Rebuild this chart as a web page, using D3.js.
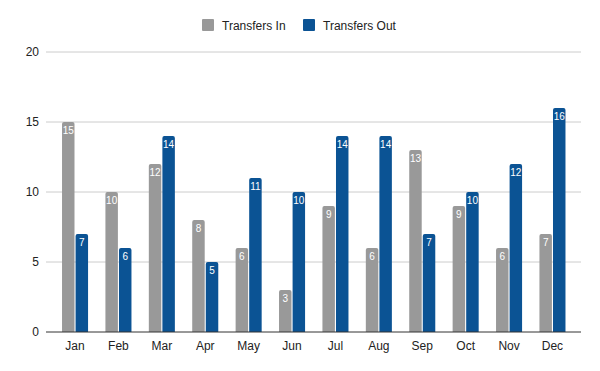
<!DOCTYPE html>
<html>
<head>
<meta charset="utf-8">
<script src="https://cdn.jsdelivr.net/npm/d3@7"></script>
<style>
  body { margin: 0; background: #fff; }
  text { font-family: Arial, "Liberation Sans", sans-serif; }
</style>
</head>
<body>
<svg id="chart" width="600" height="371"></svg>
<script>
const months = ["Jan", "Feb", "Mar", "Apr", "May", "Jun", "Jul", "Aug", "Sep", "Oct", "Nov", "Dec"];
const transfersIn = [15, 10, 12, 8, 6, 3, 9, 6, 13, 9, 6, 7];
const transfersOut = [7, 6, 14, 5, 11, 10, 14, 14, 7, 10, 12, 16];
const yTicks = [0, 5, 10, 15, 20];

const series = [
    { name: "Transfers In", values: transfersIn, color: "#999999" },
    { name: "Transfers Out", values: transfersOut, color: "#0b5394" }
];

const svg = d3.select("#chart");
const gridLeft = 46, gridRight = 581;

const x = d3.scaleBand().domain(months).range([49, 578.5]).paddingInner(0.4).paddingOuter(0.3);
const xs = d3.scaleBand().domain(series.map(s => s.name)).range([0, x.bandwidth()]).paddingInner(0.08);
const y = d3.scaleLinear().domain([0, 20]).range([332, 52]);

// gridlines
svg.append("g").selectAll("line")
    .data(yTicks.filter(t => t > 0))
    .enter().append("line")
    .attr("x1", gridLeft).attr("x2", gridRight)
    .attr("y1", d => y(d)).attr("y2", d => y(d))
    .attr("stroke", "#cccccc").attr("stroke-width", 1);

// y labels
svg.append("g").selectAll("text")
    .data(yTicks)
    .enter().append("text")
    .attr("x", 39).attr("y", d => y(d) + 4)
    .attr("text-anchor", "end")
    .attr("font-size", 12).attr("fill", "#222")
    .text(d => d);

// bars
const groups = svg.append("g").selectAll("g")
    .data(months)
    .enter().append("g")
    .attr("transform", d => `translate(${x(d)},0)`);

series.forEach(s => {
    groups.append("path")
        .attr("fill", s.color)
        .attr("d", (d, i) => {
            const x0 = xs(s.name), w = xs.bandwidth();
            const top = y(s.values[i]), bot = y(0), r = 2;
            return `M${x0},${bot}V${top + r}Q${x0},${top} ${x0 + r},${top}H${x0 + w - r}Q${x0 + w},${top} ${x0 + w},${top + r}V${bot}Z`;
        });
    groups.append("text")
        .attr("x", xs(s.name) + xs.bandwidth() / 2)
        .attr("y", (d, i) => y(s.values[i]) + 12)
        .attr("text-anchor", "middle")
        .attr("font-size", 10).attr("fill", "#fff")
        .text((d, i) => s.values[i]);
});

// baseline
svg.append("line")
    .attr("x1", gridLeft).attr("x2", gridRight)
    .attr("y1", y(0)).attr("y2", y(0))
    .attr("stroke", "#333").attr("stroke-width", 1);

// x labels
svg.append("g").selectAll("text")
    .data(months)
    .enter().append("text")
    .attr("x", d => x(d) + x.bandwidth() / 2)
    .attr("y", 350)
    .attr("text-anchor", "middle")
    .attr("font-size", 12).attr("fill", "#222")
    .text(d => d);

// legend
const legendX = [202, 303];
const legend = svg.append("g").selectAll("g")
    .data(series)
    .enter().append("g")
    .attr("transform", (d, i) => `translate(${legendX[i]},19)`);
legend.append("rect").attr("width", 12).attr("height", 12).attr("rx", 1).attr("fill", d => d.color);
legend.append("text").attr("x", 20).attr("y", 10.5)
    .attr("font-size", 12).attr("fill", "#222")
    .text(d => d.name);
</script>
</body>
</html>
